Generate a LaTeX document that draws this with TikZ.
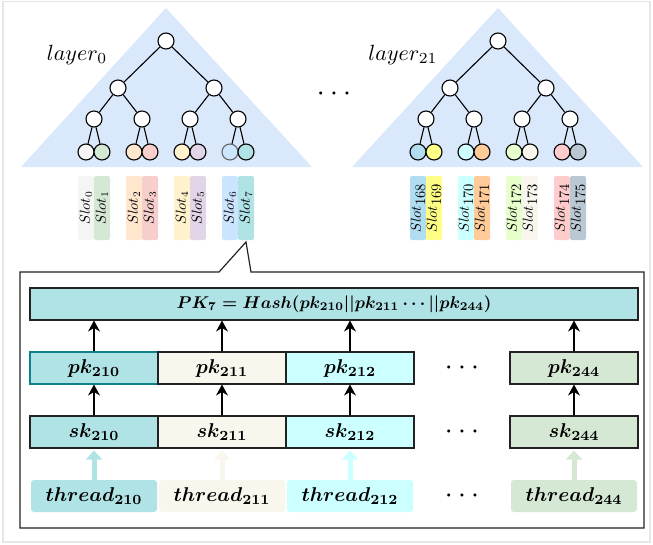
\documentclass[tikz,border=0pt]{standalone}
\usetikzlibrary{arrows.meta}
\definecolor{triblue}{HTML}{DAE8FC}
\definecolor{framegrey}{HTML}{E6E6E6}
\definecolor{edge}{HTML}{222222}
\definecolor{cA}{HTML}{F5F5F5}
\definecolor{cB}{HTML}{D5E8D4}
\definecolor{cC}{HTML}{FFE6CC}
\definecolor{cD}{HTML}{F8CECC}
\definecolor{cE}{HTML}{FFF2CC}
\definecolor{cF}{HTML}{E1D5E7}
\definecolor{cG}{HTML}{CCE5FF}
\definecolor{cH}{HTML}{B0E3E6}
\definecolor{dA}{HTML}{B1DDF0}
\definecolor{dB}{HTML}{FFFF88}
\definecolor{dC}{HTML}{CCFFFF}
\definecolor{dD}{HTML}{FFCC99}
\definecolor{dE}{HTML}{E6FFCC}
\definecolor{dF}{HTML}{F9F7ED}
\definecolor{dG}{HTML}{FFCCCC}
\definecolor{dH}{HTML}{BAC8D3}
\definecolor{tealedge}{HTML}{0E8088}
\newcommand{\keytxt}[1]{\scalebox{2.0}{\boldmath$#1$}}
\newcommand{\pktxt}[1]{\scalebox{1.7}{\boldmath$#1$}}
\newcommand{\slottxt}[1]{\scalebox{1.45}{$#1$}}
\newcommand{\laytxt}[1]{\scalebox{2.2}{$#1$}}
\newcommand{\threedots}{\scalebox{2}{\boldmath$\mathord{\cdot}\kern3.4pt\mathord{\cdot}\kern3.4pt\mathord{\cdot}$}}
\tikzset{
  tn/.style={circle, draw=black, line width=1.1pt, fill=white, minimum size=16pt, inner sep=0pt},
  tedge/.style={line width=1.1pt, black},
  slotbox/.style={rotate=90, minimum width=64pt, minimum height=16pt, inner sep=0pt, rounded corners=2pt},
  keybox/.style={draw=edge, line width=1.1pt, minimum width=128pt, minimum height=32pt, inner sep=0pt},
  thbox/.style={rounded corners=3pt, minimum width=126pt, minimum height=32pt, inner sep=0pt},
  blk/.style={-{Stealth[length=11pt,width=12pt]}, line width=1.3pt, black},
  fat/.style={-{Triangle[length=9pt,width=16pt]}, line width=5pt, shorten >=2pt},
  dotsnode/.style={inner sep=0pt}
}
\begin{document}
\begin{tikzpicture}[x=1pt,y=-1pt]
\useasboundingbox (0,0) rectangle (653,544);
\draw[framegrey, line width=1.2pt] (3,1.5) rectangle (650,542);

% triangles
\fill[triblue] (166,8) -- (312,167) -- (21,167) -- cycle;
\fill[triblue] (498,8) -- (643,167) -- (352,167) -- cycle;

\node (lay0) at (77,55) {\laytxt{layer_0}};
\node (lay21) at (403,55) {\laytxt{layer_{21}}};
\node[dotsnode] (mdots) at (334,94) {\threedots};

% left tree
\node[tn] (a0) at (166,41) {};
\node[tn] (a1) at (118,88) {};
\node[tn] (a2) at (214,88) {};
\node[tn] (a3) at (94,119) {};
\node[tn] (a4) at (142,119) {};
\node[tn] (a5) at (190,119) {};
\node[tn] (a6) at (238,119) {};
\node[tn, fill=cA] (l0) at (86,152) {};
\node[tn, fill=cB] (l1) at (102,152) {};
\node[tn, fill=cC] (l2) at (134,152) {};
\node[tn, fill=cD] (l3) at (150,152) {};
\node[tn, fill=cE] (l4) at (182,152) {};
\node[tn, fill=cF] (l5) at (198,152) {};
\node[tn, fill=cG, draw=black!60] (l6) at (230,152) {};
\node[tn, fill=cH] (l7) at (246,152) {};
\draw[tedge] (a0) -- (a1) (a0) -- (a2) (a1) -- (a3) (a1) -- (a4) (a2) -- (a5) (a2) -- (a6)
  (a3) -- (l0) (a3) -- (l1) (a4) -- (l2) (a4) -- (l3) (a5) -- (l4) (a5) -- (l5) (a6) -- (l6) (a6) -- (l7);

% right tree
\node[tn] (b0) at (498,41) {};
\node[tn] (b1) at (450,88) {};
\node[tn] (b2) at (546,88) {};
\node[tn] (b3) at (426,119) {};
\node[tn] (b4) at (474,119) {};
\node[tn] (b5) at (522,119) {};
\node[tn] (b6) at (570,119) {};
\node[tn, fill=dA] (m0) at (418,152) {};
\node[tn, fill=dB] (m1) at (434,152) {};
\node[tn, fill=dC] (m2) at (466,152) {};
\node[tn, fill=dD] (m3) at (482,152) {};
\node[tn, fill=dE] (m4) at (514,152) {};
\node[tn, fill=dF] (m5) at (530,152) {};
\node[tn, fill=dG] (m6) at (562,152) {};
\node[tn, fill=dH] (m7) at (578,152) {};
\draw[tedge] (b0) -- (b1) (b0) -- (b2) (b1) -- (b3) (b1) -- (b4) (b2) -- (b5) (b2) -- (b6)
  (b3) -- (m0) (b3) -- (m1) (b4) -- (m2) (b4) -- (m3) (b5) -- (m4) (b5) -- (m5) (b6) -- (m6) (b6) -- (m7);

% left slots
\node[slotbox, fill=cA] (s0) at (86,208) {\slottxt{Slot_{0}}};
\node[slotbox, fill=cB] (s1) at (102,208) {\slottxt{Slot_{1}}};
\node[slotbox, fill=cC] (s2) at (134,208) {\slottxt{Slot_{2}}};
\node[slotbox, fill=cD] (s3) at (150,208) {\slottxt{Slot_{3}}};
\node[slotbox, fill=cE] (s4) at (182,208) {\slottxt{Slot_{4}}};
\node[slotbox, fill=cF] (s5) at (198,208) {\slottxt{Slot_{5}}};
\node[slotbox, fill=cG] (s6) at (230,208) {\slottxt{Slot_{6}}};
\node[slotbox, fill=cH] (s7) at (246,208) {\slottxt{Slot_{7}}};

% right slots
\node[slotbox, fill=dA] (t0) at (418,208) {\slottxt{Slot_{\textstyle 168}}};
\node[slotbox, fill=dB] (t1) at (434,208) {\slottxt{Slot_{\textstyle 169}}};
\node[slotbox, fill=dC] (t2) at (466,208) {\slottxt{Slot_{\textstyle 170}}};
\node[slotbox, fill=dD] (t3) at (482,208) {\slottxt{Slot_{\textstyle 171}}};
\node[slotbox, fill=dE] (t4) at (514,208) {\slottxt{Slot_{\textstyle 172}}};
\node[slotbox, fill=dF] (t5) at (530,208) {\slottxt{Slot_{\textstyle 173}}};
\node[slotbox, fill=dG] (t6) at (562,208) {\slottxt{Slot_{\textstyle 174}}};
\node[slotbox, fill=dH] (t7) at (578,208) {\slottxt{Slot_{\textstyle 175}}};

% callout frame
\coordinate (tip) at (246,242);
\draw[edge, line width=1.2pt, line join=miter] (219,272) -- (tip) -- (251,272) -- (644,272) -- (644,528) -- (20,528) -- (20,272) -- cycle;

% PK box
\node[keybox, fill=cH, minimum width=608pt] (PK) at (334,304)
  {\pktxt{PK_7 = Hash(pk_{210}||pk_{211}\cdots||pk_{244})}};

% pk row
\node[keybox, fill=cH, draw=tealedge] (pk0) at (94,368) {\keytxt{pk_{210}}};
\node[keybox, fill=dF] (pk1) at (222,368) {\keytxt{pk_{211}}};
\node[keybox, fill=dC] (pk2) at (350,368) {\keytxt{pk_{212}}};
\node[keybox, fill=cB] (pk3) at (574,368) {\keytxt{pk_{244}}};
% sk row
\node[keybox, fill=cH] (sk0) at (94,432) {\keytxt{sk_{210}}};
\node[keybox, fill=dF] (sk1) at (222,432) {\keytxt{sk_{211}}};
\node[keybox, fill=dC] (sk2) at (350,432) {\keytxt{sk_{212}}};
\node[keybox, fill=cB] (sk3) at (574,432) {\keytxt{sk_{244}}};
% thread row
\node[thbox, fill=cH] (th0) at (94,496) {\keytxt{thread_{210}}};
\node[thbox, fill=dF] (th1) at (222,496) {\keytxt{thread_{211}}};
\node[thbox, fill=dC] (th2) at (350,496) {\keytxt{thread_{212}}};
\node[thbox, fill=cB] (th3) at (574,496) {\keytxt{thread_{244}}};

\node[dotsnode] (d1) at (462,368) {\threedots};
\node[dotsnode] (d2) at (462,432) {\threedots};
\node[dotsnode] (d3) at (462,496) {\threedots};

% arrows
\foreach \i in {0,1,2,3} {
  \draw[blk] (sk\i) -- (pk\i);
  \draw[blk] (pk\i.north) -- (pk\i.north |- PK.south);
}
\draw[fat, cH] (th0) -- (sk0);
\draw[fat, dF] (th1) -- (sk1);
\draw[fat, dC] (th2) -- (sk2);
\draw[fat, cB] (th3) -- (sk3);
\end{tikzpicture}
\end{document}
